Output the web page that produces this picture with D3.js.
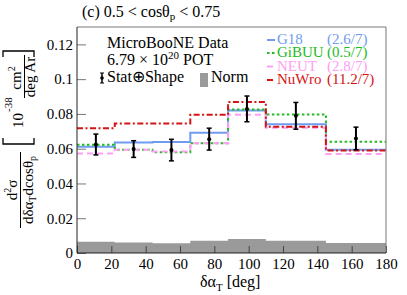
<!DOCTYPE html>
<html>
<head>
<meta charset="utf-8">
<script src="https://cdn.jsdelivr.net/npm/d3@7"></script>
<style>
  body { margin: 0; background: #fff; }
  text { font-family: "Liberation Serif", "Times New Roman", serif; }
</style>
</head>
<body>
<svg id="chart" width="407" height="295"></svg>
<script>
// bins in deg
let binEdges = [0, 22, 44, 66, 88, 110, 145, 180];

// data + models, 10^-38 cm2 / deg Ar
let dataVals = [0.0624, 0.0598, 0.0592, 0.0655, 0.0829, 0.0789, 0.0659];
let dataErr = [0.0060, 0.0048, 0.0062, 0.0063, 0.0074, 0.0077, 0.0065];
let normVals = [0.0065, 0.0061, 0.0056, 0.0071, 0.0080, 0.0071, 0.0057];
let g18 = [0.0611, 0.0636, 0.0638, 0.0691, 0.0820, 0.0741, 0.0594];
let gibuu = [0.0622, 0.0594, 0.0580, 0.0632, 0.0826, 0.0797, 0.0640];
let neut = [0.0573, 0.0594, 0.0584, 0.0632, 0.0795, 0.0720, 0.0569];
let nuwro = [0.0718, 0.0745, 0.0745, 0.0795, 0.0868, 0.0726, 0.0590];

let modelNames = ["G18", "GiBUU", "NEUT", "NuWro"];
let modelChi2 = ["(2.6/7)", "(0.5/7)", "(2.8/7)", "(11.2/7)"];

let xTicks = [0, 20, 40, 60, 80, 100, 120, 140, 160, 180];
let yTicks = [0, 0.02, 0.04, 0.06, 0.08, 0.1, 0.12];

let padL = 77, padR = 386, padT = 27, padB = 253;

let svg = d3.select("#chart");

let x = d3.scaleLinear().domain([0, 180]).range([padL, padR]);
let y = d3.scaleLinear().domain([0, 0.13]).range([padB, padT]);

// helper: histogram as step points
function steps(vals) {
  let pts = [];
  vals.forEach((v, i) => {
    pts.push([binEdges[i], v]);
    pts.push([binEdges[i + 1], v]);
  });
  return pts;
}

let line = d3.line().x(d => x(d[0])).y(d => y(d[1]));

// norm band
let area = d3.area().x(d => x(d[0])).y0(y(0)).y1(d => y(d[1]));
svg.append("path")
  .attr("d", area(steps(normVals)))
  .style("fill", "#9a9a9a");

// models
let models = [
  { vals: g18, color: "#6f9cf0", dash: null },
  { vals: gibuu, color: "#22bb22", dash: "2.5,2.5" },
  { vals: neut, color: "#ff9ef5", dash: "6,4" },
  { vals: nuwro, color: "#d41414", dash: "6,2.5,2,2.5" }
];

models.forEach(m => {
  svg.append("path")
    .attr("d", line(steps(m.vals)))
    .style("fill", "none")
    .style("stroke", m.color)
    .style("stroke-width", 2)
    .style("stroke-dasharray", m.dash);
});

// axes
let yAxis = svg.append("g")
  .attr("transform", `translate(${padL},0)`)
  .call(d3.axisLeft(y).tickValues(yTicks).tickSize(-9).tickPadding(4)
    .tickFormat(d => d === 0 ? "0" : String(+d.toFixed(2))));
yAxis.select(".domain").remove();
yAxis.selectAll("line").style("stroke", "#777");
yAxis.selectAll("text").style("font-size", "15px").style("font-family", "Liberation Serif").style("fill", "#000");

let xAxis = svg.append("g")
  .attr("transform", `translate(0,${padB})`)
  .call(d3.axisBottom(x).tickValues(xTicks).tickSize(-7).tickPadding(5));
xAxis.select(".domain").remove();
xAxis.selectAll("line").style("stroke", "#444");
xAxis.selectAll("text").style("font-size", "15px").style("font-family", "Liberation Serif").style("fill", "#000");

// frame
svg.append("path")
  .attr("d", `M${padL},${padT}H${padR}V${padB}`)
  .style("fill", "none").style("stroke", "#777").style("stroke-width", 1);
svg.append("path")
  .attr("d", `M${padL},${padT}V${padB}H${padR}`)
  .style("fill", "none").style("stroke", "#222").style("stroke-width", 1);

// data points
let centers = binEdges.slice(0, -1).map((e, i) => (e + binEdges[i + 1]) / 2);
let pts = svg.append("g");
dataVals.forEach((v, i) => {
  let cx = x(centers[i]);
  let lo = y(v - dataErr[i]), hi = y(v + dataErr[i]);
  pts.append("line").attr("x1", cx).attr("x2", cx).attr("y1", lo).attr("y2", hi)
    .style("stroke", "#000").style("stroke-width", 2);
  pts.append("line").attr("x1", cx - 2.5).attr("x2", cx + 2.5).attr("y1", lo).attr("y2", lo)
    .style("stroke", "#000").style("stroke-width", 1.5);
  pts.append("line").attr("x1", cx - 2.5).attr("x2", cx + 2.5).attr("y1", hi).attr("y2", hi)
    .style("stroke", "#000").style("stroke-width", 1.5);
  pts.append("circle").attr("cx", cx).attr("cy", y(v)).attr("r", 2).style("fill", "#000");
});

// title
let title = svg.append("text").attr("x", 82).attr("y", 17).style("font-size", "16px");
title.append("tspan").text("(c) 0.5 < cosθ");
title.append("tspan").attr("dy", 3).style("font-size", "11px").text("p");
title.append("tspan").attr("dy", -3).text(" < 0.75");

// x title
let xt = svg.append("text").attr("x", 200).attr("y", 287).style("font-size", "16px");
xt.append("tspan").text("δα");
xt.append("tspan").attr("dy", 4).style("font-size", "11px").text("T");
xt.append("tspan").attr("dy", -4).text(" [deg]");

// y title, rotated
let yt = svg.append("g").attr("transform", "translate(0,140) rotate(-90)");
let num1 = yt.append("text").attr("x", -50).attr("y", 17).attr("text-anchor", "middle").style("font-size", "15px");
num1.append("tspan").text("d");
num1.append("tspan").attr("dy", -6).style("font-size", "10px").text("2");
num1.append("tspan").attr("dy", 6).text("σ");
yt.append("line").attr("x1", -88).attr("x2", -12).attr("y1", 20.5).attr("y2", 20.5)
  .style("stroke", "#000").style("stroke-width", 1);
let den1 = yt.append("text").attr("x", -50).attr("y", 33).attr("text-anchor", "middle").style("font-size", "15px");
den1.append("tspan").text("dδα");
den1.append("tspan").attr("dy", 3).style("font-size", "10px").text("T");
den1.append("tspan").attr("dy", -3).text("dcosθ");
den1.append("tspan").attr("dy", 3).style("font-size", "10px").text("p");

// brackets
yt.append("path").attr("d", "M2,3H-4V34H2")
  .style("fill", "none").style("stroke", "#000").style("stroke-width", 1.3);
yt.append("path").attr("d", "M83,3H89V34H83")
  .style("fill", "none").style("stroke", "#000").style("stroke-width", 1.3);

yt.append("text").attr("x", 12).attr("y", 23).style("font-size", "15px").text("10");
yt.append("text").attr("x", 28).attr("y", 12).style("font-size", "11px").text("-38");

let num2 = yt.append("text").attr("x", 62).attr("y", 21).attr("text-anchor", "middle").style("font-size", "15px");
num2.append("tspan").text("cm");
num2.append("tspan").attr("dy", -6).style("font-size", "10px").text("2");
yt.append("line").attr("x1", 42).attr("x2", 85).attr("y1", 24.5).attr("y2", 24.5)
  .style("stroke", "#000").style("stroke-width", 1);
yt.append("text").attr("x", 63).attr("y", 35).attr("text-anchor", "middle").style("font-size", "15px").text("deg Ar");

// left legend
svg.append("text").attr("x", 107).attr("y", 48).style("font-size", "16px").text("MicroBooNE Data");
let pot = svg.append("text").attr("x", 107).attr("y", 65).style("font-size", "16px");
pot.append("tspan").text("6.79 × 10");
pot.append("tspan").attr("dy", -6).style("font-size", "11px").text("20");
pot.append("tspan").attr("dy", 6).text(" POT");

svg.append("line").attr("x1", 102).attr("x2", 102).attr("y1", 73).attr("y2", 83)
  .style("stroke", "#000").style("stroke-width", 1.5);
svg.append("line").attr("x1", 100).attr("x2", 104).attr("y1", 73).attr("y2", 73).style("stroke", "#000");
svg.append("line").attr("x1", 100).attr("x2", 104).attr("y1", 83).attr("y2", 83).style("stroke", "#000");
svg.append("circle").attr("cx", 102).attr("cy", 78).attr("r", 1.8).style("fill", "#000");
svg.append("text").attr("x", 107).attr("y", 82).style("font-size", "16px").text("Stat⊕Shape");

svg.append("rect").attr("x", 200).attr("y", 73).attr("width", 8).attr("height", 14).style("fill", "#9a9a9a");
svg.append("text").attr("x", 211).attr("y", 82).style("font-size", "16px").text("Norm");

// right legend
let legY = [44, 57, 70.5, 84];
models.forEach((m, i) => {
  svg.append("line").attr("x1", 267).attr("x2", 275).attr("y1", legY[i] - 4).attr("y2", legY[i] - 4)
    .style("stroke", m.color).style("stroke-width", 2).style("stroke-dasharray", m.dash);
  svg.append("text").attr("x", 277).attr("y", legY[i]).style("font-size", "15px")
    .style("fill", m.color).text(modelNames[i]);
  svg.append("text").attr("x", 327).attr("y", legY[i]).style("font-size", "15px")
    .style("fill", m.color).text(modelChi2[i]);
});
</script>
</body>
</html>
